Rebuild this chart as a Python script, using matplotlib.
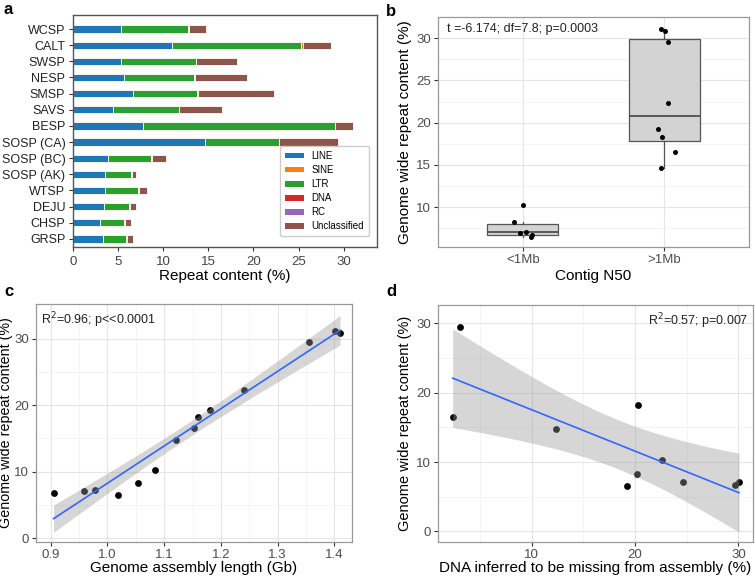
import numpy as np
import matplotlib
matplotlib.use("Agg")
import matplotlib.pyplot as plt
from matplotlib.patches import Patch

plt.rcParams['font.family'] = ['Liberation Sans', 'DejaVu Sans']

# ---------------- data ----------------
species = ["WCSP", "CALT", "SWSP", "NESP", "SMSP", "SAVS", "BESP", "SOSP (CA)",
           "SOSP (BC)", "SOSP (AK)", "WTSP", "DEJU", "CHSP", "GRSP"]
line_pct = [5.3, 11.0, 5.3, 5.6, 6.7, 4.4, 7.8, 14.6, 3.9, 3.6, 3.6, 3.4, 3.0, 3.3]
ltr_pct = [7.5, 14.3, 8.3, 7.8, 7.1, 7.3, 21.2, 8.2, 4.8, 2.8, 3.6, 2.8, 2.7, 2.6]
sine_pct = [0.03, 0.15, 0.03, 0.03, 0.03, 0.03, 0.03, 0.03, 0.03, 0.03, 0.03, 0.03, 0.03, 0.03]
dna_pct = [0.04, 0.05, 0.04, 0.04, 0.04, 0.04, 0.04, 0.04, 0.04, 0.04, 0.04, 0.04, 0.04, 0.04]
rc_pct = [0.02, 0.02, 0.02, 0.02, 0.02, 0.02, 0.02, 0.02, 0.02, 0.02, 0.02, 0.02, 0.02, 0.02]
unclass_pct = [1.8, 3.1, 4.5, 5.8, 8.4, 4.7, 2.0, 6.5, 1.5, 0.5, 0.9, 0.7, 0.6, 0.7]

# panel b
n50_groups = ["<1Mb", ">1Mb"]
repeat_small = [10.3, 8.3, 7.0, 7.1, 6.7, 6.5]
jitter_small = [0.0, -0.06, -0.02, 0.02, 0.065, 0.06]
repeat_large = [31.1, 30.9, 29.5, 22.3, 19.3, 18.3, 16.5, 14.7]
jitter_large = [-0.02, 0.007, 0.026, 0.026, -0.045, -0.016, 0.08, -0.02]

# panel c
assembly_gb = [0.905, 0.958, 0.978, 1.019, 1.053, 1.083, 1.12, 1.152, 1.16, 1.18, 1.24, 1.356, 1.401, 1.41]
repeat_c = [6.8, 7.1, 7.2, 6.5, 8.3, 10.3, 14.7, 16.5, 18.3, 19.3, 22.3, 29.5, 31.1, 30.9]

# panel d
missing_pct = [2.35, 3.05, 12.4, 20.3, 19.2, 20.2, 22.6, 24.6, 29.7, 30.06]
repeat_d = [16.5, 29.5, 14.7, 18.25, 6.5, 8.3, 10.3, 7.1, 6.7, 7.15]

W, H = 755, 577
fig = plt.figure(figsize=(W / 100, H / 100), dpi=100)


def add_ax(left, right, top, bottom):
    return fig.add_axes([left / W, 1 - bottom / H, (right - left) / W, (bottom - top) / H])


# ---------------- panel a ----------------
axa = add_ax(73, 377, 15, 247)
colors = {"LINE": "#1f77b4", "SINE": "#ff7f0e", "LTR": "#2ca02c", "DNA": "#d62728",
          "RC": "#9467bd", "Unclassified": "#8c564b"}
ypos = np.arange(len(species))[::-1]
left = np.zeros(len(species))
for name, vals in [("LINE", line_pct), ("LTR", ltr_pct), ("SINE", sine_pct),
                   ("DNA", dna_pct), ("RC", rc_pct), ("Unclassified", unclass_pct)]:
    v = np.array(vals)
    axa.barh(ypos, v, left=left, height=0.45, color=colors[name],
             edgecolor="white", linewidth=0.6)
    left = left + v
axa.set_yticks(ypos)
axa.set_yticklabels(species, fontsize=9)
axa.set_xlim(0, 33.7)
axa.set_ylim(-0.5, 13.87)
axa.set_xticks([0, 5, 10, 15, 20, 25, 30])
axa.tick_params(axis='x', labelsize=9.5, colors='#333333', labelcolor='#444444', length=3)
axa.tick_params(axis='y', colors='#333333', labelcolor='#222222', length=3, pad=2.5)
axa.set_xlabel("Repeat content (%)", fontsize=11, labelpad=1)
for s in axa.spines.values():
    s.set_color('#555555')
    s.set_linewidth(1.0)
handles = [Patch(facecolor=colors[k], label=k) for k in
           ["LINE", "SINE", "LTR", "DNA", "RC", "Unclassified"]]
axa.legend(handles=handles, loc='lower right', fontsize=7, frameon=True,
           handlelength=2.0, handleheight=0.5, labelspacing=0.42,
           borderpad=0.5, framealpha=1, edgecolor='#cccccc',
           bbox_to_anchor=(0.99, 0.025))


def gg_style(ax):
    for s in ax.spines.values():
        s.set_color('#999999')
        s.set_linewidth(0.9)
    ax.set_axisbelow(True)
    ax.grid(which='major', color='#e5e5e5', linewidth=0.8)
    ax.grid(which='minor', color='#f0f0f0', linewidth=0.5)
    ax.tick_params(which='major', length=3, color='#333333', labelsize=9.5,
                   labelcolor='#4d4d4d', width=0.8, pad=2)
    ax.tick_params(which='minor', length=0)


# ---------------- panel b ----------------
axb = add_ax(438, 749, 17, 247)
gg_style(axb)
bp = axb.boxplot([repeat_small, repeat_large], positions=[1, 2], widths=0.5,
                 patch_artist=True, showfliers=False, showcaps=False, whis=1.5,
                 zorder=2)
for b in bp['boxes']:
    b.set_facecolor('#d3d3d3')
    b.set_edgecolor('#555555')
    b.set_linewidth(0.9)
for m in bp['medians']:
    m.set_color('#444444')
    m.set_linewidth(1.2)
for w in bp['whiskers']:
    w.set_color('#555555')
    w.set_linewidth(0.9)
axb.scatter(1 + np.array(jitter_small), repeat_small, s=13, color='black', zorder=3, linewidths=0)
axb.scatter(2 + np.array(jitter_large), repeat_large, s=13, color='black', zorder=3, linewidths=0)
axb.set_xlim(0.4, 2.6)
axb.set_ylim(5.3, 32.5)
axb.set_xticks([1, 2])
axb.set_xticklabels(n50_groups)
axb.set_yticks([10, 15, 20, 25, 30])
axb.set_yticks([7.5, 12.5, 17.5, 22.5, 27.5], minor=True)
axb.grid(which='minor', axis='x', visible=False)
axb.set_xlabel("Contig N50", fontsize=11, labelpad=2)
axb.set_ylabel("Genome wide repeat content (%)", fontsize=11, labelpad=3)
axb.text(0.03, 0.975, "t =-6.174; df=7.8; p=0.0003", transform=axb.transAxes,
         ha='left', va='top', fontsize=9, color='#222222')


def fit_band(ax, x, y, tcrit):
    x = np.asarray(x, float)
    y = np.asarray(y, float)
    n = len(x)
    slope, intercept = np.polyfit(x, y, 1)
    resid = y - (slope * x + intercept)
    s = np.sqrt(np.sum(resid ** 2) / (n - 2))
    xs = np.linspace(x.min(), x.max(), 80)
    ys = slope * xs + intercept
    se = s * np.sqrt(1 / n + (xs - x.mean()) ** 2 / np.sum((x - x.mean()) ** 2))
    ax.fill_between(xs, ys - tcrit * se, ys + tcrit * se, color='#999999', alpha=0.4,
                    linewidth=0, zorder=3)
    ax.plot(xs, ys, color='#3366FF', linewidth=1.2, zorder=4)


# ---------------- panel c ----------------
axc = add_ax(36, 352, 304, 542)
gg_style(axc)
axc.scatter(assembly_gb, repeat_c, s=24, color='black', zorder=2, linewidths=0)
fit_band(axc, assembly_gb, repeat_c, 2.179)
axc.set_xlim(0.874, 1.431)
axc.set_ylim(-0.55, 35.2)
axc.set_xticks([0.9, 1.0, 1.1, 1.2, 1.3, 1.4])
axc.set_xticks([0.95, 1.05, 1.15, 1.25, 1.35], minor=True)
axc.set_yticks([0, 10, 20, 30])
axc.set_yticks([5, 15, 25], minor=True)
axc.set_xlabel("Genome assembly length (Gb)", fontsize=11, labelpad=0)
axc.set_ylabel("Genome wide repeat content (%)", fontsize=10.3, labelpad=1)
axc.text(0.015, 0.975, "R$^2$=0.96; p<<0.0001", transform=axc.transAxes,
         ha='left', va='top', fontsize=9, color='#222222')

# ---------------- panel d ----------------
axd = add_ax(438, 753, 305, 542)
gg_style(axd)
axd.scatter(missing_pct, repeat_d, s=24, color='black', zorder=2, linewidths=0)
fit_band(axd, missing_pct, repeat_d, 2.306)
axd.set_xlim(0.93, 31.42)
axd.set_ylim(-1.53, 32.64)
axd.set_xticks([10, 20, 30])
axd.set_xticks([5, 15, 25], minor=True)
axd.set_yticks([0, 10, 20, 30])
axd.set_yticks([5, 15, 25], minor=True)
axd.set_xlabel("DNA inferred to be missing from assembly (%)", fontsize=11, labelpad=0)
axd.set_ylabel("Genome wide repeat content (%)", fontsize=10.5, labelpad=3)
axd.text(0.985, 0.975, "R$^2$=0.57; p=0.007", transform=axd.transAxes,
         ha='right', va='top', fontsize=9, color='#222222')

# panel letters
for lbl, x, y in [("a", 4, 10), ("b", 386, 11), ("c", 4, 292), ("d", 386, 292)]:
    fig.text(x / W, 1 - y / H, lbl, fontsize=12, fontweight='bold', ha='left', va='center')

fig.savefig("out.png", dpi=100)
